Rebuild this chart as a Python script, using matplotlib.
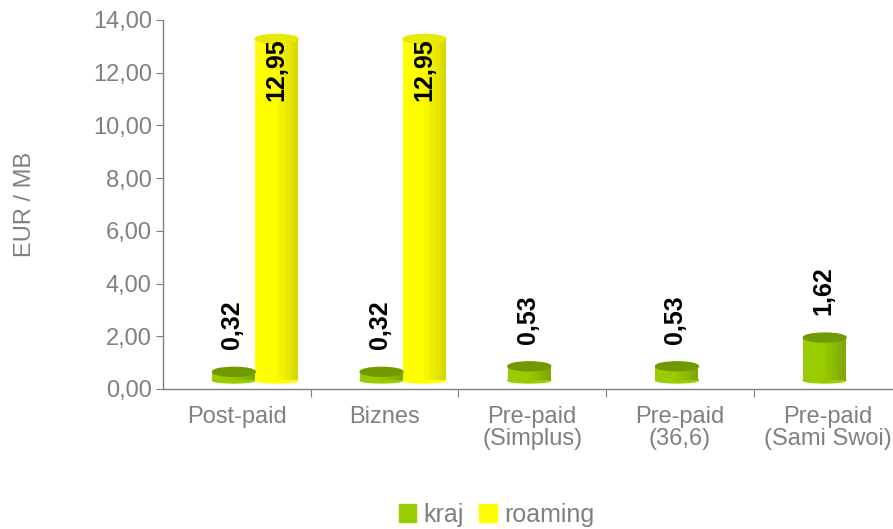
import matplotlib
matplotlib.use('Agg')
import matplotlib.pyplot as plt
import numpy as np
from matplotlib.colors import to_rgb
from matplotlib.patches import Ellipse
from matplotlib.ticker import FuncFormatter, FixedLocator, NullFormatter

categories = ['Post-paid', 'Biznes', 'Pre-paid\n(Simplus)', 'Pre-paid\n(36,6)', 'Pre-paid\n(Sami Swoi)']
kraj = [0.32, 0.32, 0.53, 0.53, 1.62]
roaming = [12.95, 12.95, None, None, None]

GREEN = '#99cc00'
GREEN_DARK = '#7fa800'
GREEN_TOP = '#6f9a00'
YELLOW = '#ffff00'
YELLOW_DARK = '#d9d900'
YELLOW_TOP = '#e8e800'
GRAY = '#808080'

plt.rcParams['font.family'] = ['Liberation Sans', 'DejaVu Sans']

fig = plt.figure(figsize=(8.93, 5.29), dpi=100)
ax = fig.add_axes([0.1825, 0.2647, 0.827, 0.6975])

width = 0.29
lift = 0.33  # pseudo-3D floor offset
cap_h = 0.34
n_strips = 12


def draw_bar(x, val, face, side, top):
    # cylinder shading: light left half, darker to the right
    c1, c2 = np.array(to_rgb(face)), np.array(to_rgb(side))
    sw = width / n_strips
    for k in range(n_strips):
        t = k / (n_strips - 1)
        w = max(0.0, (t - 0.45) / 0.55)
        col = c1 * (1 - w) + c2 * w
        ax.bar(x - width / 2 + sw * (k + 0.5), val, width=sw * 1.05, bottom=lift,
               color=col, edgecolor='none', zorder=2)
    ax.add_patch(Ellipse((x, lift), width, cap_h * 0.6, color=face, zorder=1))
    ax.add_patch(Ellipse((x, lift + val), width, cap_h, color=top, zorder=4))


for i, v in enumerate(kraj):
    xg = i - 0.02
    draw_bar(xg, v, GREEN, GREEN_DARK, GREEN_TOP)
    ax.text(xg - 0.01, lift + v + 0.85, f'{v:.2f}'.replace('.', ','), rotation=90,
            ha='center', va='bottom', fontsize=18, fontweight='bold', color='black', zorder=5)

for i, v in enumerate(roaming):
    if v is None:
        continue
    xy = i - 0.02 + width
    draw_bar(xy, v, YELLOW, YELLOW_DARK, YELLOW_TOP)
    ax.text(xy, lift + v + 0.02, f'{v:.2f}'.replace('.', ','), rotation=90,
            ha='center', va='top', fontsize=18, fontweight='bold', color='black', zorder=5)

ax.set_xlim(-0.5, len(categories) - 0.5)
ax.set_ylim(0, 14)
ax.set_yticks(range(0, 15, 2))
ax.yaxis.set_major_formatter(FuncFormatter(lambda v, p: f'{v:.2f}'.replace('.', ',')))

ax.xaxis.set_major_locator(FixedLocator([i + 0.5 for i in range(len(categories) - 1)]))
ax.xaxis.set_major_formatter(NullFormatter())
ax.xaxis.set_minor_locator(FixedLocator(range(len(categories))))
ax.set_xticklabels(categories, minor=True, linespacing=1.05)
ax.tick_params(axis='x', which='minor', length=0, pad=12, labelsize=17, labelcolor=GRAY)
ax.tick_params(axis='x', which='major', length=6, direction='out', color=GRAY)
ax.tick_params(axis='y', length=5, direction='out', color=GRAY, labelsize=17, labelcolor=GRAY, pad=3)

for s in ['top', 'right']:
    ax.spines[s].set_visible(False)
for s in ['left', 'bottom']:
    ax.spines[s].set_color(GRAY)
    ax.spines[s].set_linewidth(1)

ax.set_ylabel('EUR / MB', fontsize=17, color=GRAY)
ax.yaxis.set_label_coords(-0.172, 0.5)

h1 = plt.Rectangle((0, 0), 1, 1, color=GREEN)
h2 = plt.Rectangle((0, 0), 1, 1, color=YELLOW)
leg = fig.legend([h1, h2], ['kraj', 'roaming'], loc='center', bbox_to_anchor=(0.556, 0.027),
                 ncol=2, frameon=False, fontsize=18, handlelength=0.7, handleheight=0.7,
                 handletextpad=0.3, columnspacing=0.6, borderpad=0)
for t in leg.get_texts():
    t.set_color(GRAY)

fig.savefig('out.png', dpi=100)
